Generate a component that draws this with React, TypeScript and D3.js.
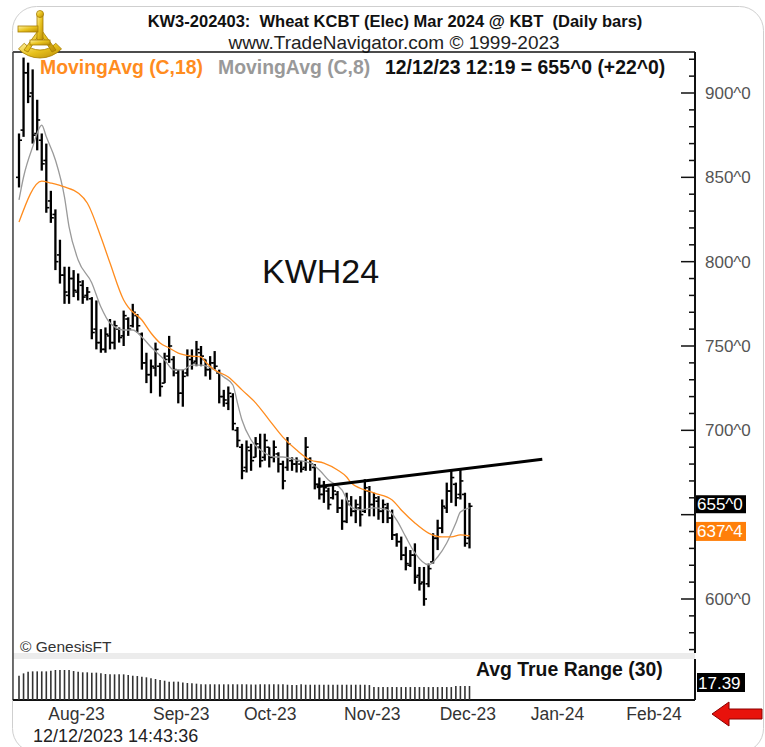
import { useRef, useEffect } from "react";
import * as d3 from "d3";

// KWH24 daily bars, one entry per trading day (24 Jul 2023 .. 12 Dec 2023)
const highs = [876, 921, 918, 914, 896, 876, 870, 842, 831, 813, 797, 797, 795, 793, 789, 785, 779, 777, 760, 761, 766, 765, 761, 771, 767, 775, 769, 758, 746, 742, 752, 740, 746, 756, 744, 736, 736, 748, 748, 753, 750, 742, 744, 747, 736, 724, 726, 722, 702, 692, 694, 692, 696, 698, 698, 690, 694, 687, 682, 696, 684, 684, 682, 696, 684, 680, 672, 670, 666, 668, 664, 659, 663, 661, 659, 661, 671, 667, 663, 661, 659, 657, 653, 639, 637, 631, 629, 633, 619, 619, 621, 639, 647, 659, 669, 677, 669, 677, 663, 657];
const lows = [844, 874, 894, 870, 866, 854, 829, 823, 795, 787, 775, 775, 779, 777, 775, 777, 754, 748, 746, 746, 748, 748, 752, 750, 756, 761, 758, 736, 728, 722, 732, 720, 728, 740, 732, 716, 714, 732, 736, 738, 738, 732, 730, 736, 716, 714, 712, 700, 690, 671, 675, 676, 684, 678, 682, 678, 681, 675, 665, 676, 676, 675, 675, 676, 676, 665, 659, 657, 653, 659, 651, 641, 645, 649, 645, 643, 651, 649, 649, 647, 645, 645, 635, 631, 623, 617, 619, 609, 605, 596, 607, 621, 629, 639, 651, 657, 655, 659, 631, 630];
const opens = [850, 878, 912, 900, 876, 872, 860, 836, 828, 804, 792, 780, 790, 782, 786, 780, 778, 760, 752, 748, 756, 752, 760, 756, 766, 762, 768, 757, 740, 733, 737, 738, 728, 744, 742, 734, 722, 734, 742, 741, 746, 742, 736, 740, 734, 720, 716, 720, 700, 690, 678, 688, 684, 690, 684, 690, 684, 686, 680, 678, 682, 680, 680, 678, 683, 678, 668, 662, 664, 660, 662, 654, 646, 656, 652, 654, 652, 664, 656, 658, 652, 654, 648, 638, 634, 626, 620, 626, 614, 610, 609, 622, 636, 642, 654, 664, 668, 662, 662, 636];
const closes = [872, 912, 898, 875, 884, 858, 832, 826, 800, 792, 782, 790, 783, 788, 779, 782, 758, 752, 748, 757, 752, 762, 755, 768, 760, 770, 762, 740, 733, 738, 748, 726, 742, 750, 736, 722, 732, 744, 740, 748, 744, 736, 740, 738, 720, 718, 722, 704, 694, 676, 690, 682, 692, 682, 694, 684, 690, 680, 670, 692, 680, 682, 677, 690, 680, 668, 662, 666, 656, 664, 654, 646, 658, 652, 656, 650, 666, 656, 660, 652, 656, 648, 638, 634, 626, 621, 626, 613, 609, 600, 618, 636, 642, 655, 664, 672, 660, 670, 633, 655];

// Avg True Range (30), same bars
const atr30 = [30.2, 33.1, 35.2, 35.6, 35.6, 35.6, 35.6, 36.4, 37.3, 37.3, 37.3, 37.3, 36, 35.2, 34.4, 34.4, 34, 34, 33.2, 32.3, 31.9, 31.9, 31.9, 31.9, 31.1, 30.2, 29.8, 29, 28.2, 26.9, 26.1, 24.8, 24, 22.8, 22.8, 22.8, 21.9, 21.1, 20.7, 20.3, 19.5, 19.5, 19.5, 19.5, 19.5, 19.5, 19.5, 19.5, 19.5, 19.5, 19.5, 19.2, 19.2, 19.5, 19.5, 19.5, 19.5, 19.5, 19.5, 19.0, 18.6, 18.6, 19.5, 19.0, 19.0, 19.0, 19.0, 19.0, 19.0, 19.0, 19.0, 19.0, 19.0, 19.0, 19.0, 19.0, 19.0, 18.6, 16.2, 16.1, 16.1, 16.1, 16.1, 16.1, 16.1, 16.1, 16.1, 16.1, 16.1, 16.1, 16.1, 16.1, 16.1, 16.1, 16.1, 16.1, 17.4, 17.4, 17.4, 17.39];

// moving averages (bar index, value)
const ma18Idx = [0, 5, 7, 10, 13, 15, 18, 20, 23, 24, 27, 29, 31, 33, 35, 38, 40, 41, 43, 46, 47, 49, 52, 55, 58, 61, 64, 67, 70, 72, 73, 78, 82, 84, 87, 90, 93, 95, 97, 99];
const ma18Val = [823.5, 847.8, 846.6, 844.3, 840.7, 834.8, 814.6, 799.2, 777.3, 773, 765.4, 757.7, 751.8, 748.8, 745.8, 744, 743.5, 740.5, 735.8, 731.6, 729.3, 724, 716.3, 706.1, 696, 688.3, 682.4, 680.6, 676.5, 672.3, 668.8, 662.9, 658.7, 652.8, 645.1, 639.1, 636.8, 636.8, 638, 637.4];
const ma8Idx = [0, 1, 3, 5, 6, 8, 10, 11, 13, 16, 18, 20, 23, 25, 27, 29, 32, 34, 36, 38, 40, 43, 45, 47, 48, 49, 51, 54, 56, 58, 61, 64, 66, 68, 71, 73, 75, 78, 81, 83, 85, 87, 90, 92, 94, 96, 97, 99];
const ma8Val = [836.6, 850.2, 868, 881, 874, 860.3, 838.3, 820.6, 801, 787.4, 773.1, 763.6, 759.5, 759.5, 755.3, 749.4, 741.7, 735.8, 735.8, 738.7, 738.7, 735.8, 731.6, 726.9, 716.3, 706.1, 694.3, 686.6, 684.2, 684.2, 682.4, 680.6, 676.5, 670.6, 664.6, 654.5, 652.8, 654, 652.8, 646.8, 636.8, 627.3, 620.2, 624.9, 633.2, 645, 651.6, 654];

// hand drawn trend line
const trendIdx = [65.4, 115];
const trendVal = [666.6, 682.8];

const monthLabels = ["Aug-23", "Sep-23", "Oct-23", "Nov-23", "Dec-23", "Jan-24", "Feb-24"];
const monthStartIdx = [6, 29, 49, 71, 92, 112, 133];

// 650 sits under the last-price flag, so only the others get a label
const priceTicks = [600, 700, 750, 800, 850, 900];
const lastClose = 655;
const lastMa18 = 637.4;
const lastAtr = "17.39";

const FONT = "Arial, 'Liberation Sans', sans-serif";

const App = () => {
    const svgRef = useRef<SVGSVGElement>(null);

    useEffect(() => {
        const svg = d3.select(svgRef.current);
        svg.selectAll("*").remove();

        const frame = { left: 13, right: 695, top: 52, bottom: 653 };
        const lower = { top: 659, bottom: 700 };

        const x = d3.scaleLinear().domain([0, 99]).range([19, 469.5]);
        const y = d3.scaleLinear().domain([600, 900]).range([599, 93]);
        const yAtr = d3.scaleLinear().domain([0, 45]).range([lower.bottom, lower.bottom - 36.2]);

        svg.style("font-family", FONT);

        // card
        svg.append("rect")
            .attr("x", 12.5).attr("y", 6.5).attr("width", 751).attr("height", 746)
            .attr("rx", 24).attr("fill", "#fff").attr("stroke", "#cfcfcf");

        const defs = svg.append("defs");
        defs.append("clipPath").attr("id", "plot")
            .append("rect")
            .attr("x", frame.left).attr("y", frame.top)
            .attr("width", frame.right - frame.left).attr("height", frame.bottom - frame.top);
        const gold = defs.append("linearGradient").attr("id", "gold")
            .attr("x1", 0).attr("y1", 0).attr("x2", 1).attr("y2", 1);
        gold.append("stop").attr("offset", "0%").attr("stop-color", "#fff2a0");
        gold.append("stop").attr("offset", "50%").attr("stop-color", "#e8c21e");
        gold.append("stop").attr("offset", "100%").attr("stop-color", "#b88a06");

        // titles
        svg.append("text")
            .attr("x", 395).attr("y", 27).attr("text-anchor", "middle")
            .attr("font-size", 16.5).attr("font-weight", "bold").attr("fill", "#111")
            .style("white-space", "pre")
            .text("KW3-202403:  Wheat KCBT (Elec) Mar 2024 @ KBT  (Daily bars)");
        svg.append("text")
            .attr("x", 394).attr("y", 49).attr("text-anchor", "middle")
            .attr("font-size", 19).attr("fill", "#222")
            .text("www.TradeNavigator.com © 1999-2023");

        // separator band + frame
        svg.append("rect").attr("x", frame.left).attr("y", frame.bottom)
            .attr("width", frame.right - frame.left).attr("height", lower.top - frame.bottom)
            .attr("fill", "#ececec");
        svg.append("line")
            .attr("x1", frame.left).attr("x2", frame.right)
            .attr("y1", frame.top).attr("y2", frame.top)
            .attr("stroke", "#111").attr("stroke-width", 1.5);
        svg.append("line")
            .attr("x1", frame.left).attr("x2", frame.left)
            .attr("y1", frame.top).attr("y2", lower.bottom)
            .attr("stroke", "#444").attr("stroke-width", 1.5);
        svg.append("line")
            .attr("x1", frame.right).attr("x2", frame.right)
            .attr("y1", frame.top).attr("y2", frame.bottom)
            .attr("stroke", "#111").attr("stroke-width", 2);
        svg.append("line")
            .attr("x1", frame.right).attr("x2", frame.right)
            .attr("y1", lower.top).attr("y2", lower.bottom)
            .attr("stroke", "#111").attr("stroke-width", 2);
        svg.append("line")
            .attr("x1", frame.left).attr("x2", frame.right)
            .attr("y1", lower.bottom).attr("y2", lower.bottom)
            .attr("stroke", "#111").attr("stroke-width", 2);

        // right price axis
        const minor = d3.range(570, 930, 10).filter(v => y(v) > frame.top + 3 && y(v) < frame.bottom - 2);
        svg.append("g").selectAll("line").data(minor).join("line")
            .attr("x1", d => frame.right - (d % 50 === 0 ? 14 : 6)).attr("x2", frame.right)
            .attr("y1", d => y(d)).attr("y2", d => y(d))
            .attr("stroke", "#111").attr("stroke-width", 1.5);
        svg.append("g").selectAll("text").data(priceTicks).join("text")
            .attr("x", 705).attr("y", d => y(d) + 6)
            .attr("font-size", 17).attr("fill", "#555")
            .text(d => `${d}^0`);

        const plot = svg.append("g").attr("clip-path", "url(#plot)");

        // OHLC bars
        const bars = highs.map((h, i) => ({ i, o: opens[i], h, l: lows[i], c: closes[i] }));
        plot.append("g").selectAll("line").data(bars).join("line")
            .attr("x1", d => x(d.i)).attr("x2", d => x(d.i))
            .attr("y1", d => y(d.h)).attr("y2", d => y(d.l))
            .attr("stroke", "#000").attr("stroke-width", 2.3);
        plot.append("g").selectAll("line").data(bars).join("line")
            .attr("x1", d => x(d.i) - 3).attr("x2", d => x(d.i))
            .attr("y1", d => y(d.o)).attr("y2", d => y(d.o))
            .attr("stroke", "#000").attr("stroke-width", 1.6);
        plot.append("g").selectAll("line").data(bars).join("line")
            .attr("x1", d => x(d.i)).attr("x2", d => x(d.i) + 3)
            .attr("y1", d => y(d.c)).attr("y2", d => y(d.c))
            .attr("stroke", "#000").attr("stroke-width", 1.6);

        // moving averages
        const maLine = d3.line<[number, number]>()
            .x(d => x(d[0])).y(d => y(d[1]))
            .curve(d3.curveMonotoneX);
        plot.append("path")
            .datum(ma8Idx.map((i, k) => [i, ma8Val[k]] as [number, number]))
            .attr("fill", "none").attr("stroke", "#9a9a9a").attr("stroke-width", 1.3)
            .attr("d", maLine);
        plot.append("path")
            .datum(ma18Idx.map((i, k) => [i, ma18Val[k]] as [number, number]))
            .attr("fill", "none").attr("stroke", "#ff8c1e").attr("stroke-width", 1.3)
            .attr("d", maLine);

        // trend line
        plot.append("path")
            .datum(trendIdx.map((i, k) => [i, trendVal[k]] as [number, number]))
            .attr("fill", "none").attr("stroke", "#000").attr("stroke-width", 3)
            .attr("d", d3.line<[number, number]>().x(d => x(d[0])).y(d => y(d[1])));

        // legend
        const legend = svg.append("text").attr("y", 74).attr("font-size", 19.4).attr("font-weight", "bold");
        legend.append("tspan").attr("x", 40).attr("fill", "#ff8c1e").text("MovingAvg (C,18)");
        legend.append("tspan").attr("x", 218).attr("fill", "#999").text("MovingAvg (C,8)");
        legend.append("tspan").attr("x", 385).attr("fill", "#111").text("12/12/23 12:19 = 655^0 (+22^0)");

        svg.append("text")
            .attr("x", 262).attr("y", 283).attr("font-size", 34).attr("fill", "#111")
            .text("KWH24");
        svg.append("text")
            .attr("x", 20).attr("y", 652).attr("font-size", 15.5).attr("fill", "#333")
            .text("© GenesisFT");

        // last value flags
        const yc = y(lastClose);
        svg.append("rect").attr("x", frame.right + 1).attr("y", yc - 11).attr("width", 50).attr("height", 18).attr("fill", "#000");
        svg.append("text").attr("x", frame.right + 2).attr("y", yc + 4).attr("font-size", 17).attr("fill", "#fff").text(`${lastClose}^0`);
        const ym = Math.max(y(lastMa18) - 14, yc + 9);
        svg.append("rect").attr("x", frame.right + 1).attr("y", ym).attr("width", 50).attr("height", 19).attr("fill", "#ff7f0a");
        svg.append("text").attr("x", frame.right + 2).attr("y", ym + 15).attr("font-size", 17).attr("fill", "#fff")
            .text(`${Math.floor(lastMa18)}^${Math.round((lastMa18 % 1) * 10)}`);

        // ATR panel
        svg.append("g").selectAll("line").data(atr30).join("line")
            .attr("x1", (_, i) => x(i)).attr("x2", (_, i) => x(i))
            .attr("y1", yAtr(0)).attr("y2", d => yAtr(d))
            .attr("stroke", "#333").attr("stroke-width", 1.6);
        svg.append("text")
            .attr("x", 476).attr("y", 676).attr("font-size", 19.4).attr("font-weight", "bold").attr("fill", "#111")
            .text("Avg True Range (30)");
        svg.append("rect").attr("x", frame.right + 2).attr("y", 673).attr("width", 48).attr("height", 19).attr("fill", "#000");
        svg.append("text").attr("x", frame.right + 3).attr("y", 689).attr("font-size", 17).attr("fill", "#fff").text(lastAtr);

        // month labels
        svg.append("g").selectAll("text").data(monthLabels).join("text")
            .attr("x", (_, k) => x(monthStartIdx[k]) + 2).attr("y", 720)
            .attr("font-size", 17.5).attr("fill", "#333")
            .text(d => d);

        svg.append("text")
            .attr("x", 33).attr("y", 742).attr("font-size", 18).attr("fill", "#222")
            .text("12/12/2023 14:43:36");

        // red arrow
        svg.append("path")
            .attr("d", "M712,714 L729,702 L729,709 L762,709 L762,719 L729,719 L729,726 Z")
            .attr("fill", "#e8120c").attr("stroke", "#8a0000").attr("stroke-width", 1);

        // sextant logo
        const logo = svg.append("g").attr("fill", "url(#gold)").attr("stroke", "#a67c00").attr("stroke-width", 0.8);
        logo.append("path")
            .attr("transform", "translate(40,28)")
            .attr("d", d3.arc()({ innerRadius: 22, outerRadius: 30, startAngle: Math.PI - 0.8, endAngle: Math.PI + 0.8 }) as string);
        logo.append("path").attr("d", "M40,28 L24,50 L28,52 L40,33 L52,52 L56,50 Z");
        logo.append("rect").attr("x", 37).attr("y", 14).attr("width", 6).attr("height", 26);
        logo.append("circle").attr("cx", 40).attr("cy", 14).attr("r", 3.5);
        logo.append("rect").attr("x", 18).attr("y", 26).attr("width", 20).attr("height", 6);
        logo.append("rect").attr("x", 30).attr("y", 40).attr("width", 20).attr("height", 5);
    }, []);

    return (
        <svg ref={svgRef} width={765} height={747}
            style={{ position: "absolute", left: 0, top: 0, background: "#fff" }} />
    );
};

export default App;
